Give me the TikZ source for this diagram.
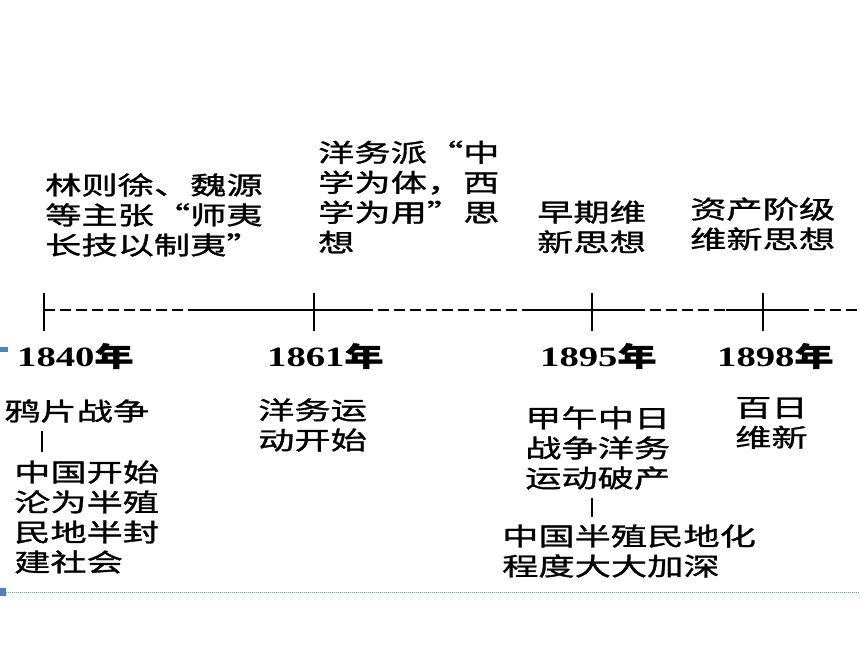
\documentclass[tikz,border=0pt]{standalone}
\usepackage{fontspec}
\newfontfamily\cjk[FakeStretch=1.45,FakeBold=1.2]{Noto Sans CJK SC}
\newfontfamily\yrfont[FakeStretch=1.38]{Liberation Serif}
\newcommand{\nian}{{\cjk\fontsize{27}{30}\selectfont 年}}
\definecolor{slideblue}{RGB}{79,129,189}
\begin{document}
\begin{tikzpicture}[x=1pt,y=-1pt]
    \tikzset{>=latex}
    \tikzset{txt/.style={anchor=west,align=left,inner sep=0pt,font=\cjk\fontsize{25}{30}\selectfont}}
    \tikzset{yr/.style={anchor=west,inner sep=0pt,font=\yrfont\bfseries\fontsize{28}{30}\selectfont}}
    \tikzset{axis/.style={line width=1.6pt}}
    \useasboundingbox (0,0) rectangle (860,645);
    % time axis
    \coordinate (T1) at (44,310);
    \coordinate (T2) at (314,310);
    \coordinate (T3) at (592,310);
    \coordinate (T4) at (763,310);
    \coordinate (S1) at (198,310);
    \coordinate (E1) at (362,310);
    \coordinate (S2) at (528,310);
    \coordinate (E2) at (634,310);
    \coordinate (S3) at (726,310);
    \coordinate (E3) at (798,310);
    \coordinate (R) at (860,310);
    \draw[axis,dash pattern=on 11pt off 5pt] (T1) -- (S1);
    \draw[axis] (S1) -- (E1);
    \draw[axis,dash pattern=on 11pt off 5pt] (E1) -- (S2);
    \draw[axis] (S2) -- (E2);
    \draw[axis,dash pattern=on 11pt off 5pt] (E2) -- (S3);
    \draw[axis] (S3) -- (E3);
    \draw[axis,dash pattern=on 11pt off 5pt] (E3) -- (R);
    \foreach \t in {T1,T2,T3,T4}
        \draw[axis] (\t) ++(0,-17) -- ++(0,38);
    % years
    \node[yr] (y1840) at (17,356) {1840\nian};
    \node[yr] (y1861) at (267,356) {1861\nian};
    \node[yr] (y1895) at (540,356) {1895\nian};
    \node[yr] (y1898) at (717,356) {1898\nian};
    % thoughts above the axis
    \node[txt] (linzexu) at (45,215) {林则徐、魏源\\等主张“师夷\\长技以制夷”};
    \node[txt] (yangwupai) at (318,197) {洋务派“中\\学为体，西\\学为用”思\\想};
    \node[txt] (zaoqi) at (537,227) {早期维\\新思想};
    \node[txt] (zichan) at (690,224) {资产阶级\\维新思想};
    % events below the axis
    \node[txt] (yapian) at (4,411) {鸦片战争};
    \node[txt] (banzhimin) at (14,517) {中国开始\\沦为半殖\\民地半封\\建社会};
    \node[txt] (yangwu) at (258,425) {洋务运\\动开始};
    \node[txt] (jiawu) at (525,448) {甲午中日\\战争洋务\\运动破产};
    \node[txt] (jiashen) at (502,551) {中国半殖民地化\\程度大大加深};
    \node[txt] (bairi) at (735,423) {百日\\维新};
    \coordinate (B1) at (42,431);
    \coordinate (B2) at (42,452);
    \coordinate (B3) at (592,498);
    \coordinate (B4) at (592,517);
    \draw[line width=1.2pt] (B1) -- (B2);
    \draw[line width=1.2pt] (B3) -- (B4);
    % slide marks
    \draw[slideblue!80,densely dotted,line width=1pt] (0,592) -- (860,592);
    \fill[slideblue] (0,347) rectangle (8,352);
    \fill[slideblue] (0,588) rectangle (6,596);
\end{tikzpicture}
\end{document}
